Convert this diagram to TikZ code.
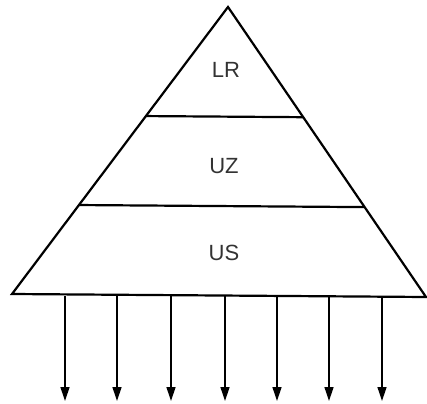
\documentclass[tikz,border=0pt]{standalone}
\usepackage{fontspec}
\setmainfont{Liberation Sans}
\usepackage{tikz}
\usetikzlibrary{calc}
\usetikzlibrary{arrows.meta}

\begin{document}
\begin{tikzpicture}[%
  x=1pt, y=-1pt,
  layer/.style={line width=2.2pt, line join=miter},
  flow/.style={line width=1.3pt, -{Triangle[length=14pt, width=9pt]}},
  label/.style={font=\fontsize{22}{22}\selectfont, text=black!80}]

  \useasboundingbox (0,0) rectangle (427,403);

  % pyramid corners
  \coordinate (top) at (228,7);
  \coordinate (bl) at (12,294);
  \coordinate (br) at (426,297);
  \draw[layer] (bl) -- (top) -- (br) -- cycle;

  % layer borders
  \coordinate (lr-l) at ($(top)!0.38!(bl)$);
  \coordinate (lr-r) at ($(top)!0.38!(br)$);
  \coordinate (uz-l) at ($(top)!0.69!(bl)$);
  \coordinate (uz-r) at ($(top)!0.69!(br)$);
  \draw[layer] (lr-l) -- (lr-r);
  \draw[layer] (uz-l) -- (uz-r);

  \node[label] (lr) at (226,70) {LR};
  \node[label] (uz) at (224,166) {UZ};
  \node[label] (us) at (224,253) {US};

  % outputs
  \foreach \i/\x in {1/65,2/117,3/171,4/225,5/277,6/329,7/382} {
    \coordinate (out\i) at (\x,296);
    \coordinate (end\i) at (\x,401);
    \draw[flow] (out\i) -- (end\i);
  }
\end{tikzpicture}
\end{document}
